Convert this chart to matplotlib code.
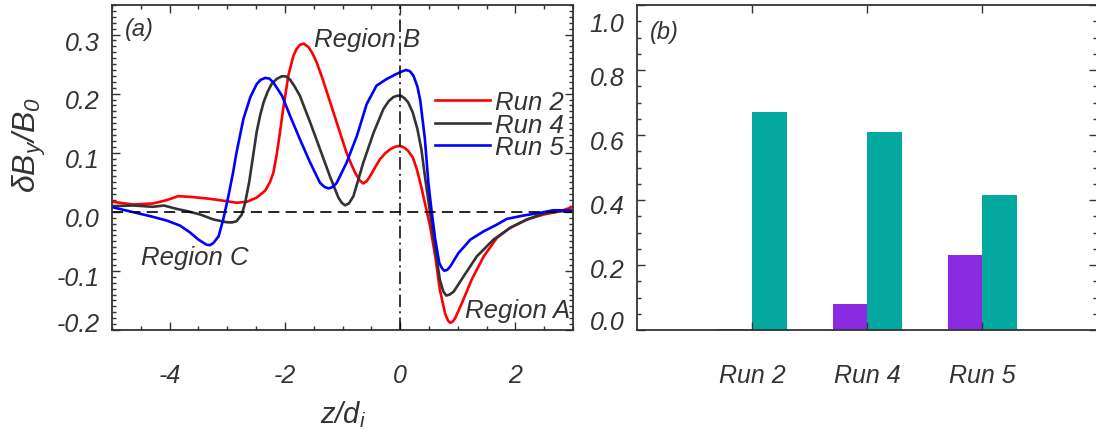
import matplotlib
matplotlib.use('Agg')
import matplotlib.pyplot as plt
from matplotlib.transforms import ScaledTranslation
from matplotlib.ticker import MultipleLocator

plt.rcParams['font.family'] = ['Liberation Sans', 'DejaVu Sans']
plt.rcParams['font.style'] = 'italic'
plt.rcParams['mathtext.fontset'] = 'custom'
plt.rcParams['mathtext.it'] = 'Liberation Sans:italic'
plt.rcParams['mathtext.rm'] = 'Liberation Sans:italic'
plt.rcParams['mathtext.default'] = 'it'
plt.rcParams['axes.unicode_minus'] = False
plt.rcParams['lines.scale_dashes'] = False

# ---------------- data: panel (a) ----------------
z_run2 = [-5.0, -4.63, -4.29, -4.05, -3.85, -3.59, -3.30, -3.01, -2.84, -2.66, -2.49,
          -2.34, -2.26, -2.20, -2.14, -2.08, -2.03, -1.98, -1.94, -1.89, -1.85, -1.80,
          -1.74, -1.67, -1.59, -1.52, -1.45, -1.36, -1.27, -1.10, -0.93, -0.85, -0.78,
          -0.70, -0.64, -0.58, -0.52, -0.43, -0.35, -0.26, -0.17, -0.09, -0.01, 0.07,
          0.14, 0.22, 0.29, 0.36, 0.43, 0.52, 0.61, 0.69, 0.78, 0.83, 0.87, 0.91, 0.955,
          1.07, 1.24, 1.45, 1.68, 1.91, 2.20, 2.49, 2.78, 3.0]
b_run2 = [0.017, 0.0124, 0.0141, 0.0198, 0.0266, 0.0249, 0.022, 0.018, 0.0153, 0.017, 0.024,
          0.036, 0.050, 0.066, 0.098, 0.138, 0.174, 0.205, 0.2305, 0.250, 0.2645, 0.275,
          0.2827, 0.2845, 0.2788, 0.268, 0.2533, 0.229, 0.2023, 0.151, 0.100, 0.081, 0.066,
          0.053, 0.048, 0.052, 0.0605, 0.076, 0.089, 0.099, 0.106, 0.110, 0.1115, 0.109,
          0.103, 0.092, 0.072, 0.045, 0.015, -0.0245, -0.0755, -0.132, -0.172, -0.184,
          -0.1877, -0.186, -0.180, -0.155, -0.115, -0.0755, -0.044, -0.027, -0.013, -0.0045,
          0.001, 0.0085]

z_run4 = [-5.0, -4.63, -4.29, -4.10, -3.88, -3.70, -3.47, -3.24, -3.01, -2.92, -2.84,
          -2.75, -2.69, -2.62, -2.56, -2.49, -2.43, -2.37, -2.30, -2.23, -2.14, -2.05,
          -1.98, -1.91, -1.83, -1.74, -1.56, -1.39, -1.22, -1.07, -1.01, -0.955, -0.89,
          -0.81, -0.64, -0.46, -0.29, -0.20, -0.12, -0.05, 0.01, 0.08, 0.14, 0.22, 0.30,
          0.37, 0.43, 0.52, 0.61, 0.69, 0.75, 0.80, 0.86, 0.93, 1.10, 1.33, 1.62, 1.91,
          2.20, 2.49, 2.78, 3.0]
b_run4 = [0.0096, 0.0107, 0.0085, 0.0107, 0.005, 0.0013, -0.0045, -0.013, -0.0176, -0.018,
          -0.016, -0.005, 0.015, 0.05, 0.089, 0.135, 0.163, 0.185, 0.203, 0.2164, 0.225,
          0.2295, 0.229, 0.2237, 0.212, 0.1965, 0.151, 0.106, 0.0605, 0.0238, 0.015, 0.011,
          0.014, 0.0265, 0.083, 0.134, 0.174, 0.187, 0.194, 0.1965, 0.1965, 0.192, 0.185,
          0.168, 0.140, 0.105, 0.0605, -0.0017, -0.064, -0.115, -0.135, -0.1417, -0.140,
          -0.135, -0.1094, -0.0755, -0.047, -0.027, -0.013, -0.0028, 0.001, 0.002]

z_run5 = [-5.0, -4.63, -4.29, -4.05, -3.82, -3.65, -3.50, -3.42, -3.36, -3.30, -3.24,
          -3.15, -3.07, -2.98, -2.90, -2.84, -2.72, -2.60, -2.49, -2.42, -2.34, -2.27,
          -2.20, -2.05, -1.91, -1.74, -1.56, -1.39, -1.31, -1.24, -1.17, -1.10, -0.93,
          -0.75, -0.58, -0.41, -0.23, -0.06, 0.03, 0.10, 0.17, 0.23, 0.30, 0.35, 0.43,
          0.49, 0.55, 0.61, 0.68, 0.73, 0.77, 0.82, 0.87, 1.01, 1.22, 1.45, 1.68, 1.85,
          2.14, 2.43, 2.66, 3.0]
b_run5 = [0.0079, -0.0006, -0.0085, -0.0148, -0.0233, -0.0346, -0.047, -0.052, -0.0556,
          -0.0565, -0.0527, -0.0414, -0.013, 0.0266, 0.066, 0.100, 0.157, 0.194, 0.216,
          0.2235, 0.2266, 0.2255, 0.219, 0.1965, 0.1625, 0.123, 0.083, 0.049, 0.042, 0.0396,
          0.042, 0.049, 0.083, 0.1285, 0.1824, 0.2135, 0.225, 0.2334, 0.2375, 0.240, 0.238,
          0.2305, 0.212, 0.188, 0.123, 0.049, -0.0017, -0.047, -0.0868, -0.096, -0.0998,
          -0.098, -0.0925, -0.070, -0.047, -0.033, -0.0216, -0.012, -0.0063, -0.0017,
          0.0027, 0.002]

# ---------------- data: panel (b) ----------------
runs = ['Run 2', 'Run 4', 'Run 5']
purple_vals = [0.003, 0.079, 0.23]
teal_vals = [0.67, 0.61, 0.415]

TXT = '#333333'
W, H = 1096, 439
fig = plt.figure(figsize=(W / 100, H / 100), dpi=100)

ax1 = fig.add_axes([112 / W, (H - 331) / H, (573 - 112) / W, (331 - 6) / H])
ax2 = fig.add_axes([637 / W, (H - 331) / H, (1097 - 637) / W, (331 - 6) / H])

for ax in (ax1, ax2):
    for s in ax.spines.values():
        s.set_color(TXT)
        s.set_linewidth(1.3)

# ---- panel (a)
ax1.plot(z_run2, b_run2, color='#ff0000', lw=1.9, label='Run 2')
ax1.plot(z_run4, b_run4, color='#333333', lw=1.9, label='Run 4')
ax1.plot(z_run5, b_run5, color='#0000ff', lw=1.9, label='Run 5')
ax1.axhline(0, color='black', lw=1.2, dashes=(8, 4.5))
ax1.axvline(0, color='black', lw=1.1, dashes=(9, 3, 1.5, 3))
ax1.set_xlim(-5, 3)
ax1.set_ylim(-0.2, 0.35)
ax1.set_xticks([-4, -2, 0, 2])
ax1.set_xticklabels(['-4', '-2', '0', '2'])
ax1.set_yticks([-0.2, -0.1, 0.0, 0.1, 0.2, 0.3])
ax1.set_yticklabels(['-0.2', '-0.1', '0.0', '0.1', '0.2', '0.3'])
ax1.xaxis.set_minor_locator(MultipleLocator(0.5))
ax1.yaxis.set_minor_locator(MultipleLocator(0.01))
ax1.tick_params(which='both', direction='in', top=True, right=True,
                colors=TXT, labelsize=18, width=1.0)
ax1.tick_params(which='major', length=6)
ax1.tick_params(which='minor', length=3)
ax1.tick_params(axis='x', pad=24)
ax1.tick_params(axis='y', pad=9)

ax1.text(-4.53, 0.310, '(a)', fontsize=17, color=TXT, ha='center', va='center')
ax1.text(-0.57, 0.293, 'Region B', fontsize=18.5, color=TXT, ha='center', va='center')
ax1.text(-3.57, -0.076, 'Region C', fontsize=18.5, color=TXT, ha='center', va='center')
ax1.text(2.03, -0.166, 'Region A', fontsize=18.5, color=TXT, ha='center', va='center')

leg = ax1.legend(loc='upper left', bbox_to_anchor=(0.70, 0.738), frameon=False,
                 fontsize=18.5, handlelength=2.15, handletextpad=0.2,
                 labelspacing=-0.06, borderpad=0, borderaxespad=0)
for t in leg.get_texts():
    t.set_color(TXT)

fig.text(29 / W, 1 - 145 / H, r'$\delta B_y/B_0$', rotation=90, fontsize=23,
         color=TXT, ha='center', va='center')
fig.text(343 / W, 1 - 415 / H, r'$z/d_i$', fontsize=21, color=TXT,
         ha='center', va='center')

# ---- panel (b)
x = [1, 2, 3]
bw = 0.3
ax2.bar([v - bw / 2 for v in x], purple_vals, width=bw, color='#8a2be2')
ax2.bar([v + bw / 2 for v in x], teal_vals, width=bw, color='#03a99f')
ax2.set_xlim(0, 4)
ax2.set_ylim(0, 1.0)
ax2.set_xticks(x)
ax2.set_xticklabels(runs)
ax2.set_yticks([0.0, 0.2, 0.4, 0.6, 0.8, 1.0])
ax2.set_yticklabels(['0.0', '0.2', '0.4', '0.6', '0.8', '1.0'])
ax2.yaxis.set_minor_locator(MultipleLocator(0.05))
ax2.tick_params(which='both', direction='in', top=True, right=True,
                colors=TXT, labelsize=18, width=1.0)
ax2.tick_params(which='major', length=6)
ax2.tick_params(which='minor', length=3)
ax2.tick_params(axis='x', which='minor', bottom=False, top=False)
ax2.tick_params(axis='x', pad=24)
ax2.tick_params(axis='y', pad=9)
ax2.text(0.235, 0.917, '(b)', fontsize=17, color=TXT, ha='center', va='center')


def shift_labels(ax, shifts_px):
    for tick, dy in zip(ax.yaxis.get_major_ticks(), shifts_px):
        off = ScaledTranslation(0, -dy / 100, fig.dpi_scale_trans)
        tick.label1.set_transform(tick.label1.get_transform() + off)


shift_labels(ax1, [-8, 5, 5, 5, 5, 6])
shift_labels(ax2, [-10, 3, 4, 4, 5, 16])

fig.savefig('out.png', dpi=100)
